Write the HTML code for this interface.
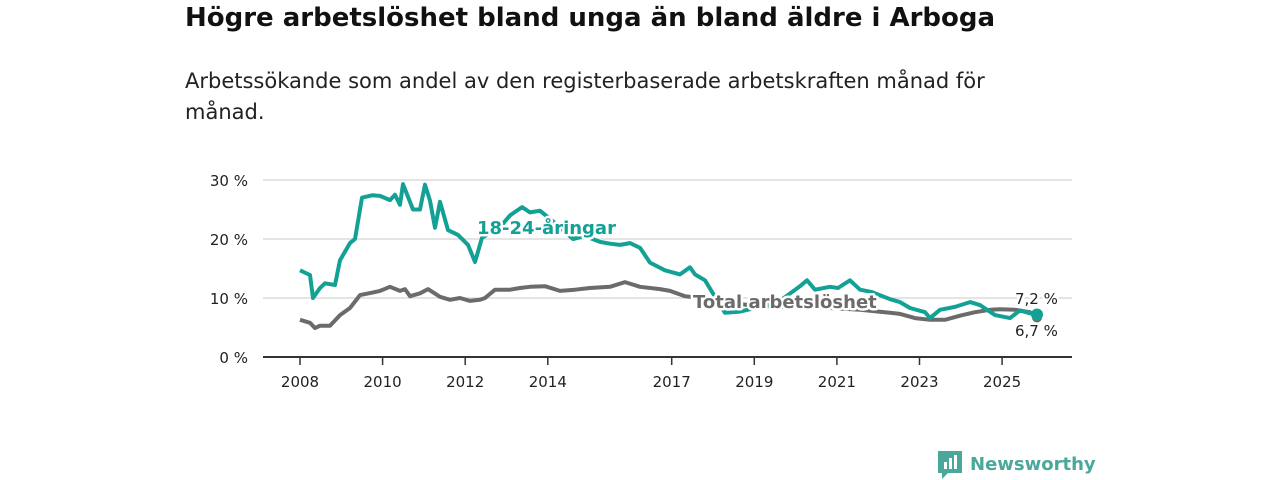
<!DOCTYPE html>
<html><head><meta charset="utf-8">
<style>
body{margin:0;width:1280px;height:480px;background:#fff;font-family:"DejaVu Sans","Liberation Sans",sans-serif;overflow:hidden;position:relative}
#title{position:absolute;left:185px;top:3px;font-size:26px;font-weight:bold;color:#111;margin:0;white-space:nowrap}
#sub{position:absolute;left:185px;top:66px;font-size:21px;line-height:31px;color:#222;width:850px}
svg{position:absolute;left:0;top:0;font-family:"DejaVu Sans","Liberation Sans",sans-serif}
</style></head><body>
<h1 id="title">Högre arbetslöshet bland unga än bland äldre i Arboga</h1>
<div id="sub">Arbetssökande som andel av den registerbaserade arbetskraften månad för månad.</div>
<svg id="chart" width="1280" height="480"></svg>
<script>
const yTicks=[0,10,20,30];
const xTickYears=[2008,2010,2012,2014,2017,2019,2021,2023,2025];
const youngX=[300,310,313,320,325,335,340,350,355,362,372,380,390,395,400,403,413,420,425,430,435,440,448,458,468,475,482,500,510,522,530,540,560,573,585,600,610,620,630,640,650,665,680,690,695,705,715,725,740,760,780,800,807,815,830,838,850,860,872,890,900,910,925,930,940,955,970,980,995,1010,1020,1030,1037];
const youngV=[14.7,13.9,10,11.7,12.5,12.2,16.4,19.3,20,27,27.4,27.3,26.6,27.5,25.8,29.3,25,25,29.2,26.5,21.9,26.3,21.5,20.7,19,16.1,20.2,22,24,25.4,24.5,24.8,22,20,20.5,19.5,19.2,19,19.3,18.5,16,14.7,14,15.2,14,13,10.2,7.5,7.7,8.5,9.5,12,13,11.4,11.9,11.7,13,11.4,11,9.8,9.3,8.3,7.6,6.6,8,8.5,9.3,8.8,7.1,6.6,7.9,7.4,7.2];
const totalX=[300,310,315,320,330,340,350,360,372,380,390,400,405,410,420,428,440,450,460,470,480,485,495,510,520,530,545,560,575,590,610,625,640,660,670,685,700,720,750,780,820,860,890,900,915,930,945,960,975,990,1000,1015,1030,1037];
const totalV=[6.3,5.8,4.9,5.3,5.3,7.1,8.3,10.5,10.9,11.2,11.9,11.2,11.5,10.3,10.8,11.5,10.2,9.7,10,9.5,9.7,10,11.4,11.4,11.7,11.9,12,11.2,11.4,11.7,11.9,12.7,11.9,11.5,11.2,10.3,10,9.3,8.8,8.5,8.4,8,7.5,7.3,6.6,6.3,6.3,7,7.6,8,8.1,8,7.6,6.7];
const NS="http://www.w3.org/2000/svg";
const svg=document.getElementById('chart');
const y=v=>357-v*5.9;
const xYear=t=>300+(t-2008)*41.3;
function mk(tag,attrs,parent){const e=document.createElementNS(NS,tag);for(const k in attrs)e.setAttribute(k,attrs[k]);(parent||svg).appendChild(e);return e;}
yTicks.forEach(v=>{
  if(v>0){const g=mk('line',{x1:263,x2:1072,y1:y(v),y2:y(v),stroke:'#dcdcdc','stroke-width':1.5});
  
  }
  const t=mk('text',{x:248,y:y(v)+6,'text-anchor':'end','font-size':15,fill:'#222'});t.textContent=v+' %';
  
  
});
const ax=mk('line',{x1:263,x2:1072,y1:357,y2:357,stroke:'#333','stroke-width':2});


xTickYears.forEach(yr=>{
  const xx=xYear(yr);
  const tk=mk('line',{x1:xx,x2:xx,y1:357,y2:365,stroke:'#333','stroke-width':1.5});
  
  
  const t=mk('text',{x:xx,y:387,'text-anchor':'middle','font-size':15,fill:'#222'});t.textContent=yr;
  
  
});
function pts(X,V){return X.map((xx,i)=>xx+','+y(V[i]).toFixed(1)).join(' ');}
const lt=mk('polyline',{points:pts(totalX,totalV),fill:'none',stroke:'#6b6b6b','stroke-width':4,'stroke-linejoin':'round'});


const ly=mk('polyline',{points:pts(youngX,youngV),fill:'none',stroke:'#14a195','stroke-width':4,'stroke-linejoin':'round'});


const d1=mk('circle',{cx:totalX[totalX.length-1],cy:y(totalV[totalV.length-1]),r:5,fill:'#6b6b6b'});


const d2=mk('circle',{cx:youngX[youngX.length-1],cy:y(youngV[youngV.length-1]),r:6,fill:'#14a195'});


function lab(txt,x,yy,fill,size,bold,name){
  const t=mk('text',{x:x,y:yy,'font-size':size,'font-weight':bold?'bold':'normal',fill:fill,stroke:'#fff','stroke-width':5,'paint-order':'stroke','stroke-linejoin':'round'});
  t.textContent=txt;
  
  
}
lab('18-24-åringar',477,234,'#14a195',18,true,'young-series-label');
lab('Total arbetslöshet',693,308,'#6b6b6b',18,true,'total-series-label');
lab('7,2 %',1015,304,'#222',15,false,'young-end-value');
lab('6,7 %',1015,336,'#222',15,false,'total-end-value');
const lg=mk('g',{});


mk('path',{d:'M938 451 h24 v22 h-14 l-6 6 v-6 h-4 z',fill:'#4aa89a'},lg);
mk('rect',{x:944,y:462,width:3,height:7,fill:'#fff'},lg);
mk('rect',{x:949,y:458,width:3,height:11,fill:'#fff'},lg);
mk('rect',{x:954,y:455,width:3,height:14,fill:'#fff'},lg);
const lt2=mk('text',{x:970,y:470,'font-size':18,'font-weight':'bold',fill:'#4aa89a'},lg);lt2.textContent='Newsworthy';
</script>
</body></html>
